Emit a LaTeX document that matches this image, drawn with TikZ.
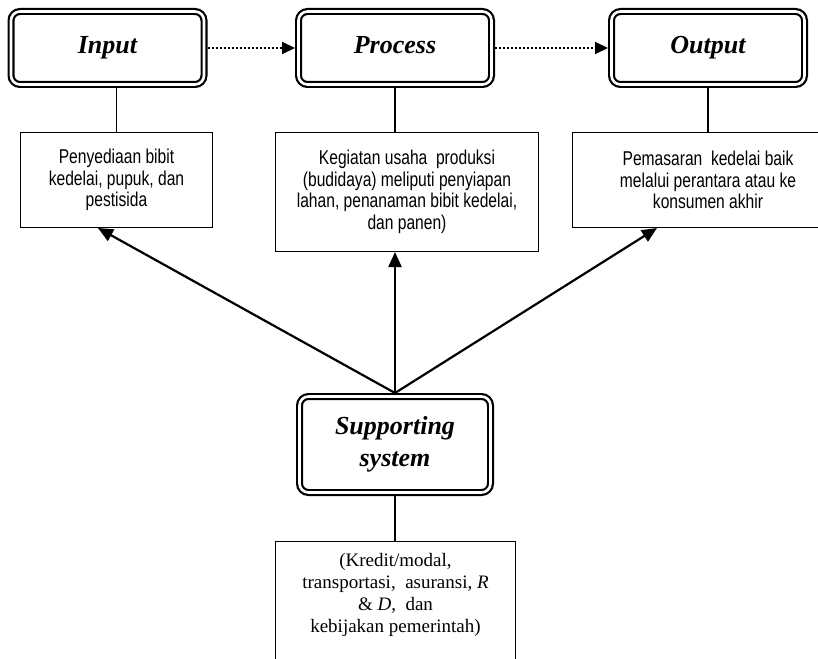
\documentclass[tikz,border=0pt]{standalone}
\usepackage{fontspec}
\setmainfont{Liberation Serif}
\newfontfamily\narrowsans[FakeStretch=0.78]{Liberation Sans}
\usetikzlibrary{arrows.meta,calc}
\begin{document}
\begin{tikzpicture}[x=1pt,y=-1pt,
  headbox/.style={draw, line width=2.2pt, double=white, double distance=2.6pt,
    rounded corners=9pt, minimum width=193pt, minimum height=73pt, inner sep=0pt,
    outer sep=3.5pt, font=\fontsize{26}{32}\selectfont\bfseries\itshape,
    text height=18pt, text depth=7pt},
  supbox/.style={draw, line width=2.2pt, double=white, double distance=2.6pt,
    rounded corners=9pt, minimum width=191pt, minimum height=96pt, inner sep=0pt,
    outer sep=3.5pt, font=\fontsize{26}{32}\selectfont\bfseries\itshape, align=center},
  descbox/.style={draw, line width=1.4pt, inner sep=0pt, fill=white,
    font=\narrowsans\fontsize{20}{21.6}\selectfont, align=center},
  lowbox/.style={draw, line width=1.4pt, inner sep=0pt, fill=white,
    font=\fontsize{19}{22}\selectfont, align=center},
  link/.style={line width=1.4pt},
  conn/.style={line width=2.2pt, -{Triangle[length=15pt,width=13pt]}},
  dotconn/.style={line width=2pt, dash pattern=on 2pt off 2pt,
    -{Triangle[length=13pt,width=12pt]}}
]
\useasboundingbox (0,0) rectangle (818,658);
\fill[white] (0,0) rectangle (818,658);
\clip (0,0) rectangle (818,658);

% head boxes
\node[headbox] (inputT) at (107.5,48) {Input};
\node[headbox] (procT) at (395,48) {Process};
\node[headbox] (outT) at (708,48) {Output};

% description boxes
\node[descbox, minimum width=191.6pt, minimum height=94.6pt] (inputD) at (116.5,180)
  {Penyediaan bibit\\ kedelai, pupuk, dan\\ pestisida};
\node[descbox, minimum width=262.6pt, minimum height=118.6pt] (procD) at (407,192)
  {Kegiatan usaha\ \ produksi\\ (budidaya) meliputi penyiapan\\ lahan, penanaman bibit kedelai,\\ dan panen)};
\node[descbox, minimum width=270.6pt, minimum height=94.6pt] (outD) at (708,180)
  {Pemasaran\ \ kedelai baik\\ melalui perantara atau ke\\ konsumen akhir};

% supporting system
\node[supbox] (sup) at (395,444.5) {Supporting\\ system};
\node[lowbox, anchor=north, minimum width=239.6pt] (lowD) at (395.5,540.7)
  {\rule{0pt}{25pt}(Kredit/modal,\\ transportasi,\ \ asuransi, \textit{R}\\ \& \textit{D},\ \ dan\\ kebijakan pemerintah)\\ \rule{0pt}{60pt}};

% vertical links
\draw[link] (inputD.north |- inputT.south) -- (inputD.north);
\draw[link] (procT.south) -- (procT.south |- procD.north);
\draw[link] (outT.south) -- (outT.south |- outD.north);
\draw[link] (sup.south) -- (sup.south |- lowD.north);

% dotted arrows
\draw[dotconn] (inputT.east) -- (procT.west);
\draw[dotconn] (procT.east) -- (outT.west);

% support arrows
\draw[conn] (sup.north) -- ([xshift=-18.5pt]inputD.south);
\draw[conn] (sup.north) -- ([xshift=-12pt]procD.south);
\draw[conn] (sup.north) -- ([xshift=-51pt]outD.south);
\end{tikzpicture}
\end{document}
